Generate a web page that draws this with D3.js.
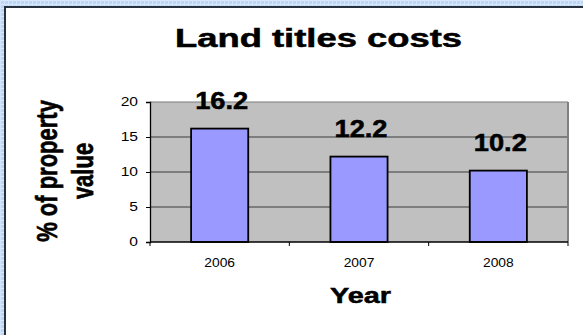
<!DOCTYPE html>
<html>
<head>
<meta charset="utf-8">
<script src="https://cdn.jsdelivr.net/npm/d3@7"></script>
<style>
  html, body { margin: 0; padding: 0; background: #fff; }
  svg { display: block; }
  text { font-family: "Liberation Sans", Arial, sans-serif; }
  text.heavy { stroke: #000; stroke-width: 0.5px; }
</style>
</head>
<body>
<svg id="chart" width="583" height="335"></svg>
<script>
// Chart data
const years = ["2006", "2007", "2008"];
const costs = [16.2, 12.2, 10.2];
const yTicks = [0, 5, 10, 15, 20];
const titleText = "Land titles costs";
const xTitle = "Year";
const yTitleLines = ["% of property", "value"];

const W = 583, H = 335;
const svg = d3.select("#chart");

// Patterned light-blue page backdrop
const defs = svg.append("defs");
const pat = defs.append("pattern")
  .attr("id", "bgpat").attr("width", 4).attr("height", 4)
  .attr("patternUnits", "userSpaceOnUse");
pat.append("rect").attr("width", 4).attr("height", 4).attr("fill", "#bcd6f6");
pat.append("rect").attr("x", 0).attr("y", 0).attr("width", 4).attr("height", 1).attr("fill", "#dbe9fc");
pat.append("rect").attr("x", 0).attr("y", 0).attr("width", 1).attr("height", 4).attr("fill", "#d4e5fb");

svg.append("rect").attr("width", W).attr("height", H).attr("fill", "url(#bgpat)");

// White chart panel with dark top/left frame
svg.append("rect").attr("x", 5).attr("y", 6).attr("width", W - 5).attr("height", H - 6).attr("fill", "#fff");
svg.append("line").attr("x1", 5).attr("x2", W).attr("y1", 7).attr("y2", 7)
  .attr("stroke", "#27313d").attr("stroke-width", 2);
svg.append("line").attr("x1", 5).attr("x2", 5).attr("y1", 6).attr("y2", H)
  .attr("stroke", "#27313d").attr("stroke-width", 2);

// Plot area geometry
const plot = { left: 150, right: 568, top: 102, bottom: 242 };

const x = d3.scaleBand()
  .domain(years)
  .range([plot.left, plot.right])
  .paddingInner(0.59)
  .paddingOuter(0.295);

const y = d3.scaleLinear()
  .domain([0, 20])
  .range([plot.bottom, plot.top]);

// Horizontal text stretch helper
function stretch(sel, factor) {
  sel.each(function () {
    const w = this.getComputedTextLength();
    d3.select(this).attr("textLength", w * factor).attr("lengthAdjust", "spacingAndGlyphs");
  });
}

// Plot background
svg.append("rect")
  .attr("x", plot.left).attr("y", plot.top)
  .attr("width", plot.right - plot.left).attr("height", plot.bottom - plot.top)
  .attr("fill", "#c0c0c0");

// Gridlines
svg.append("g").selectAll("line")
  .data(yTicks.filter(d => d > 0 && d < 20))
  .join("line")
  .attr("x1", plot.left).attr("x2", plot.right)
  .attr("y1", d => y(d)).attr("y2", d => y(d))
  .attr("stroke", "#3a3a3a").attr("stroke-width", 1);

// Plot border: top and right in gray
svg.append("line")
  .attr("x1", plot.left).attr("x2", plot.right)
  .attr("y1", y(20)).attr("y2", y(20))
  .attr("stroke", "#7a7a7a").attr("stroke-width", 1.2);
svg.append("line")
  .attr("x1", plot.right).attr("x2", plot.right)
  .attr("y1", plot.top).attr("y2", plot.bottom)
  .attr("stroke", "#808080").attr("stroke-width", 2);

// Bars
svg.append("g").selectAll("rect")
  .data(costs)
  .join("rect")
  .attr("x", (d, i) => x(years[i]))
  .attr("y", d => y(d))
  .attr("width", x.bandwidth())
  .attr("height", d => y(0) - y(d))
  .attr("fill", "#9999ff")
  .attr("stroke", "#000")
  .attr("stroke-width", 1.8);

// Y axis
const yAxis = svg.append("g")
  .attr("transform", `translate(${plot.left},0)`)
  .call(d3.axisLeft(y).tickValues(yTicks).tickSize(4).tickPadding(8).tickFormat(d3.format("d")));
yAxis.select(".domain").attr("stroke", "#000").attr("stroke-width", 1.3);
yAxis.selectAll(".tick line").attr("stroke", "#000").attr("stroke-width", 1);
yAxis.selectAll(".tick text")
  .attr("font-size", 12).attr("fill", "#000")
  .attr("font-family", "Liberation Sans, Arial, sans-serif")
  .call(stretch, 1.3);

// X axis line and category boundary ticks
const xAxis = svg.append("g");
xAxis.append("line")
  .attr("x1", plot.left).attr("x2", plot.right)
  .attr("y1", plot.bottom).attr("y2", plot.bottom)
  .attr("stroke", "#000").attr("stroke-width", 1.3);
xAxis.selectAll("line.tk")
  .data(d3.range(years.length + 1))
  .join("line")
  .attr("class", "tk")
  .attr("x1", i => plot.left + i * x.step()).attr("x2", i => plot.left + i * x.step())
  .attr("y1", plot.bottom).attr("y2", plot.bottom + 4)
  .attr("stroke", "#000").attr("stroke-width", 1);
xAxis.selectAll("text")
  .data(years)
  .join("text")
  .attr("x", d => x(d) + x.bandwidth() / 2)
  .attr("y", 267)
  .attr("text-anchor", "middle")
  .attr("font-size", 12)
  .attr("fill", "#000")
  .text(d => d)
  .call(stretch, 1.15);

// Value labels above bars
svg.append("g").selectAll("text")
  .data(costs)
  .join("text")
  .attr("class", "heavy")
  .attr("x", (d, i) => x(years[i]) + x.bandwidth() / 2 + 2)
  .attr("y", d => y(d) - 20)
  .attr("text-anchor", "middle")
  .attr("font-size", 23)
  .attr("font-weight", "bold")
  .attr("fill", "#000")
  .text(d => d.toFixed(1))
  .attr("textLength", 53)
  .attr("lengthAdjust", "spacingAndGlyphs");

// Chart title
svg.append("text")
  .attr("class", "heavy")
  .attr("x", 318.5).attr("y", 47)
  .attr("text-anchor", "middle")
  .attr("font-size", 25.5)
  .attr("font-weight", "bold")
  .attr("fill", "#000")
  .text(titleText)
  .attr("textLength", 287)
  .attr("lengthAdjust", "spacingAndGlyphs");

// X axis title
svg.append("text")
  .attr("class", "heavy")
  .attr("x", 360.5).attr("y", 302.5)
  .attr("text-anchor", "middle")
  .attr("font-size", 21.5)
  .attr("font-weight", "bold")
  .attr("fill", "#000")
  .text(xTitle)
  .attr("textLength", 61)
  .attr("lengthAdjust", "spacingAndGlyphs");

// Y axis title, rotated, two lines, widened across the x direction
const yMid = 171;
const yTitleBase = [57, 93];
svg.append("g").selectAll("text")
  .data(yTitleLines)
  .join("text")
  .attr("class", "heavy")
  .attr("transform", (d, i) => `translate(${yTitleBase[i]},${yMid}) scale(1.33,1) rotate(-90)`)
  .attr("text-anchor", "middle")
  .attr("font-size", 22)
  .attr("font-weight", "bold")
  .attr("fill", "#000")
  .text(d => d);
</script>
</body>
</html>
